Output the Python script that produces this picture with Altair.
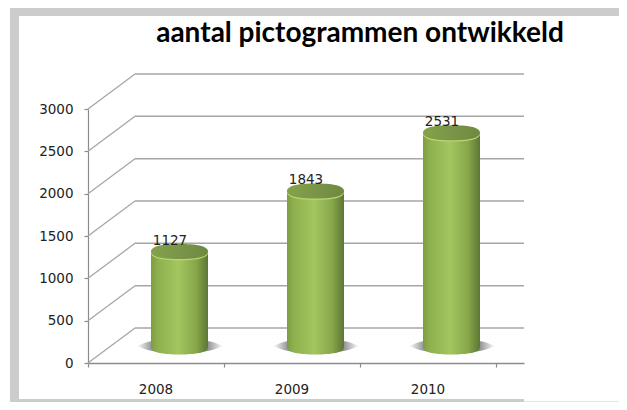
import altair as alt
import pandas as pd

years = ["2008", "2009", "2010"]
counts = [1127, 1843, 2531]
y_ticks = [0, 500, 1000, 1500, 2000, 2500, 3000]
x_ticks = [0, 1, 2, 3]
title_text = "aantal pictogrammen ontwikkeld"

# layout: image pixel -> data units of the two scales
X0, XSTEP, Y0, YPX = 88, 136, 363, 254 / 3000
def dx(px): return (px - X0) / XSTEP
def dy(px): return (Y0 - px) / YPX

xs = alt.Scale(domain=[0, dx(524)], nice=False, zero=False)
ys = alt.Scale(domain=[0, 3000], nice=False)
AX = alt.Axis(values=x_ticks, labels=False, grid=False, tickSize=4, tickColor="#8c8c8c",
              domainColor="#8c8c8c", domainWidth=1.5, tickWidth=1.2, title=None)
AY = alt.Axis(values=y_ticks, grid=False, tickSize=4, tickColor="#8c8c8c",
              domainColor="#8c8c8c", domainWidth=1.2, tickWidth=1.2, labelPadding=11,
              labelFont="DejaVu Sans", labelFontSize=13.5, labelColor="#222222", format="d", title=None)
def X(f="x"): return alt.X(f"{f}:Q", scale=xs, axis=AX)
def Y(f="y"): return alt.Y(f"{f}:Q", scale=ys, axis=AY)

GRID = "#a6a6a6"
DEPTH_X, DEPTH_Y = dx(135), dy(328)
MID_Y = dy(347)

# frame
frame = pd.DataFrame([
    dict(x=dx(10), x2=dx(619), y=dy(16), y2=dy(8), c="#cccccc"),
    dict(x=dx(10), x2=dx(19), y=dy(402), y2=dy(8), c="#cccccc"),
    dict(x=dx(10), x2=dx(524), y=dy(402), y2=dy(399), c="#cccccc"),
    dict(x=dx(524), x2=dx(619), y=dy(402), y2=dy(401), c="#e6e6e6"),
])
frame_l = alt.Chart(frame).mark_rect(strokeWidth=0).encode(
    x=X(), x2="x2:Q", y=Y(), y2="y2:Q", color=alt.Color("c:N", scale=None))

# walls
back = pd.DataFrame({"y": [v + DEPTH_Y for v in y_ticks], "x": DEPTH_X, "x2": dx(524)})
back_l = alt.Chart(back).mark_rule(color=GRID, strokeWidth=1.5).encode(x=X(), x2="x2:Q", y=Y())
diag = pd.DataFrame({"y": y_ticks, "y2": [v + DEPTH_Y for v in y_ticks], "x": 0, "x2": DEPTH_X})
diag_l = alt.Chart(diag).mark_rule(color=GRID, strokeWidth=1.3).encode(
    x=X(), x2="x2:Q", y=Y(), y2="y2:Q")

# cylinders
half = 28.5 / XSTEP
centers = [i + dx(179.5) for i in range(3)]
df = pd.DataFrame({"year": years, "v": counts, "x": centers})
df["xl"] = df.x - half
df["xr"] = df.x + half
df["base"] = MID_Y
df["top"] = df.v + MID_Y
df["toprim"] = df.top - 1.2 / YPX
df["shadow"] = dy(346)
df["shadowx"] = df.x + 0.5 / XSTEP
df["lab"] = df.v.astype(str)
df["labx"] = df.x - 9.5 / XSTEP
df["laby"] = df.top + 11 / YPX

side = alt.Gradient(gradient="linear", x1=0, x2=1, y1=0, y2=0, stops=[
    alt.GradientStop(offset=0, color="#7d9c42"),
    alt.GradientStop(offset=0.12, color="#8fb04e"),
    alt.GradientStop(offset=0.48, color="#a3c660"),
    alt.GradientStop(offset=0.8, color="#86a548"),
    alt.GradientStop(offset=0.95, color="#66823a"),
    alt.GradientStop(offset=1, color="#5c7635"),
])
lid = alt.Gradient(gradient="linear", x1=0, x2=1, y1=0, y2=0, stops=[
    alt.GradientStop(offset=0, color="#84a24a"),
    alt.GradientStop(offset=0.5, color="#7a9548"),
    alt.GradientStop(offset=1, color="#6f8a40"),
])
shadow_fill = alt.Gradient(gradient="linear", x1=0, x2=1, y1=0, y2=0, stops=[
    alt.GradientStop(offset=0, color="#ffffff"),
    alt.GradientStop(offset=0.22, color="#777777"),
    alt.GradientStop(offset=0.78, color="#777777"),
    alt.GradientStop(offset=1, color="#ffffff"),
])
ELLIPSE = ("M-1,0C-1,-0.2 -0.55,-0.263 0,-0.263C0.55,-0.263 1,-0.2 1,0"
           "C1,0.2 0.55,0.263 0,0.263C-0.55,0.263 -1,0.2 -1,0Z")
SHADOW = "M-1,0C-0.5,-0.24 0.5,-0.24 1,0C0.5,0.24 -0.5,0.24 -1,0Z"
base = alt.Chart(df)

def ell(ycol, fill, size=57 ** 2, shape=ELLIPSE, xcol="x"):
    return base.mark_point(filled=True, fill=fill, opacity=1, shape=shape, size=size, strokeWidth=0).encode(
        x=X(xcol), y=Y(ycol))

shadow_l = ell("shadow", shadow_fill, size=86 ** 2, shape=SHADOW, xcol="shadowx")
bottom_l = ell("base", side)
body_l = base.mark_rect(fill=side, strokeWidth=0, opacity=1).encode(
    x=X("xl"), x2="xr:Q", y=Y("base"), y2="top:Q")
rim_l = ell("toprim", "#b9d777")
lid_l = ell("top", lid)

labels = base.mark_text(font="DejaVu Sans", fontSize=13.5, color="#222222").encode(
    x=X("labx"), y=Y("laby"), text="lab:N")
cat = pd.DataFrame({"x": [i + 0.5 for i in range(3)], "y": dy(390), "t": years})
cat_l = alt.Chart(cat).mark_text(font="DejaVu Sans", fontSize=13.5, color="#222222").encode(
    x=X(), y=Y(), text="t:N")
title_l = alt.Chart(pd.DataFrame({"x": [dx(360)], "y": [dy(34)], "t": [title_text]})).mark_text(
    font="Lato", fontWeight="bold", fontSize=28, color="#000000").encode(x=X(), y=Y(), text="t:N")

chart = alt.layer(
    frame_l, back_l, diag_l, shadow_l, bottom_l, body_l, rim_l, lid_l, labels, cat_l, title_l
).properties(
    width=436, height=254,
    padding={"left": 80, "top": 101, "right": 95, "bottom": 39},
    autosize=alt.AutoSizeParams(type="none"),
    background="#ffffff",
).configure_view(stroke=None, clip=False)

chart.save("out.html", embed_options={"renderer": "svg", "actions": False})
